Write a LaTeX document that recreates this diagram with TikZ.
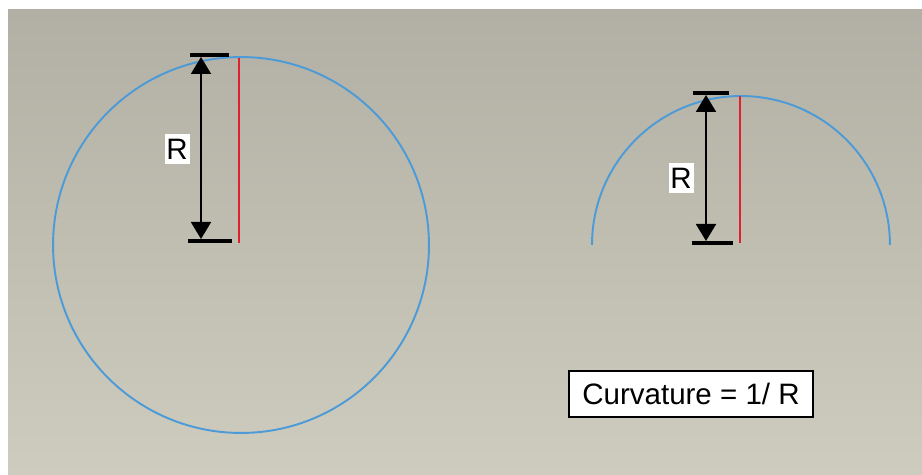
\documentclass[tikz,border=0pt]{standalone}
\usepackage{fontspec}
\setmainfont{Liberation Sans}
\usetikzlibrary{arrows.meta,positioning,calc}

\definecolor{panelTop}{HTML}{B2B0A4}
\definecolor{panelBottom}{HTML}{CECCBE}
\definecolor{arcBlue}{HTML}{4C9BD8}
\definecolor{radiusRed}{HTML}{E0202C}

\begin{document}
\begin{tikzpicture}[
  x=0.02cm,y=-0.02cm,
  curve/.style={draw=arcBlue,line width=1.1pt},
  radiusline/.style={draw=radiusRed,line width=1pt},
  dimension/.style={line width=1.1pt,
    {Triangle[length=.34cm,width=.4cm]}-{Triangle[length=.34cm,width=.4cm]}},
  dimbar/.style={line width=2.6pt},
  rlabel/.style={fill=white,inner sep=0pt,minimum width=.5cm,
    minimum height=.6cm,font=\fontsize{16.8}{19}\selectfont},
  formula/.style={draw,fill=white,line width=.9pt,inner xsep=.27cm,
    minimum height=.92cm,font=\fontsize{16.8}{19}\selectfont}
]
\useasboundingbox (0,0) rectangle (922,475);
\fill[white] (0,0) rectangle (922,475);
\shade[top color=panelTop,bottom color=panelBottom] (8,10) rectangle (922,475);

% Full circle with its radius.
\draw[curve] (241,245) circle[radius=3.76cm];
\coordinate (topA) at (239,58);
\coordinate (centreA) at (239,243);
\draw[radiusline] (topA) -- (centreA);
\coordinate (barA1) at (190,55);
\coordinate (barA2) at (229,55);
\coordinate (barA3) at (188,241);
\coordinate (barA4) at (232,241);
\draw[dimbar] (barA1) -- (barA2);
\draw[dimbar] (barA3) -- (barA4);
\coordinate (tipA1) at (201,239);
\coordinate (tipA2) at (201,57);
\draw[dimension] (tipA1) -- (tipA2);
\node[rlabel] (labelA) at (177,149) {R};

% Half circle with the same construction.
\draw[curve] (592,245) arc[start angle=180,end angle=0,radius=2.98cm];
\coordinate (topB) at (740,96);
\coordinate (centreB) at (740,243);
\draw[radiusline] (topB) -- (centreB);
\coordinate (barB1) at (693,93);
\coordinate (barB2) at (729,93);
\coordinate (barB3) at (692,243);
\coordinate (barB4) at (733,243);
\draw[dimbar] (barB1) -- (barB2);
\draw[dimbar] (barB3) -- (barB4);
\coordinate (tipB1) at (706,241);
\coordinate (tipB2) at (706,95);
\draw[dimension] (tipB1) -- (tipB2);
\node[rlabel] (labelB) at (681,178) {R};

\node[formula] (curvature) at (691,394) {Curvature = 1/ R};
\end{tikzpicture}
\end{document}
